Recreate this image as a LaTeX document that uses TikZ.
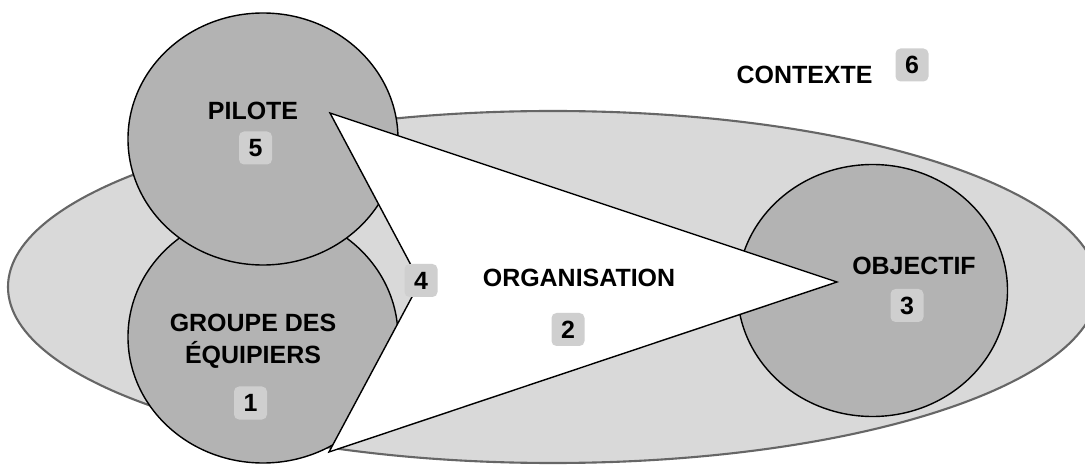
\documentclass[tikz,border=0pt]{standalone}
\usepackage{fontspec}
\setmainfont{Liberation Sans}
\usetikzlibrary{shapes.geometric}
\definecolor{fondclair}{HTML}{D9D9D9}
\definecolor{bordgris}{HTML}{666666}
\definecolor{disque}{HTML}{B3B3B3}
\definecolor{pastille}{HTML}{CFCFCF}
\begin{document}
\begin{tikzpicture}[
    cadre/.style={ellipse, draw=bordgris, fill=fondclair, line width=0.6pt, inner sep=0pt},
    bulle/.style={ellipse, draw=black, fill=disque, line width=0.4pt, minimum width=2.70cm, minimum height=2.52cm, inner sep=0pt},
    titre/.style={font=\fontsize{7.1}{9.1}\selectfont\bfseries, align=center, inner sep=0pt},
    num/.style={fill=pastille, rounded corners=0.05cm, minimum size=0.33cm, inner sep=0pt, font=\fontsize{7.1}{8}\selectfont\bfseries}
  ]
    \useasboundingbox (0, 0) rectangle (10.85, -4.65);
    \clip (0, 0) rectangle (10.85, -4.65);
    \node [cadre, minimum width=10.90cm, minimum height=3.52cm] (contexte) at (5.53, -2.87) {};
    \node [bulle] (groupe) at (2.63, -3.37) {};
    \node [bulle] (pilote) at (2.63, -1.39) {};
    \node [bulle] (objectif) at (8.725, -2.905) {};
    \coordinate (sommet) at (3.30, -1.13);
    \coordinate (pointe) at (8.37, -2.82);
    \coordinate (base) at (3.29, -4.52);
    \coordinate (creux) at (4.20, -2.82);
    \draw [fill=white, line width=0.4pt] (sommet) -- (pointe) -- (base) -- (creux) -- cycle;
    % textes et numeros
    \node [titre] (t-pilote) at (2.53, -1.11) {PILOTE};
    \node [titre] (t-groupe) at (2.53, -3.41) {GROUPE DES\\ÉQUIPIERS};
    \node [titre] (t-objectif) at (9.14, -2.66) {OBJECTIF};
    \node [titre] (t-orga) at (5.79, -2.78) {ORGANISATION};
    \node [titre] (t-contexte) at (8.045, -0.745) {CONTEXTE};
    \node [num] (n1) at (2.505, -4.03) {1};
    \node [num] (n2) at (5.68, -3.295) {2};
    \node [num] (n3) at (9.07, -3.055) {3};
    \node [num] (n4) at (4.21, -2.805) {4};
    \node [num] (n5) at (2.555, -1.48) {5};
    \node [num] (n6) at (9.12, -0.65) {6};
  \end{tikzpicture}
\end{document}
